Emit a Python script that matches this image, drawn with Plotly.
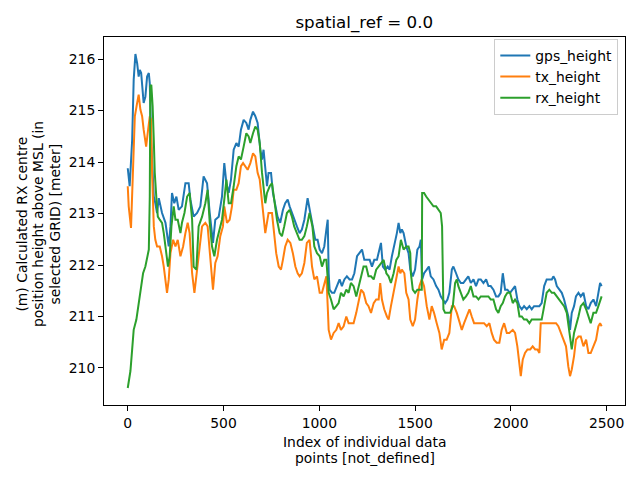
import plotly.graph_objects as go

# ---------------- data ----------------
gps_idx = [0, 10, 23, 31, 40, 49, 57, 63, 70, 75, 83, 92, 101, 110, 115, 122, 136, 144, 153, 162, 179, 197, 214, 223, 231, 243, 254, 266, 283, 301, 318, 327, 344, 362, 379,
           396, 414, 428, 445, 457, 475, 492, 504, 515, 527, 539, 553, 567, 579, 591, 605, 619, 631, 640, 654, 666, 678, 692, 701, 709, 718, 727, 735, 748, 758, 770, 782, 796, 810, 822, 835, 845, 857, 869, 883, 897, 909, 922, 935,
           939, 953, 967, 979, 991, 1002, 1014, 1026, 1037, 1044, 1049, 1054, 1066, 1078, 1092, 1106, 1118, 1131, 1144, 1158, 1171, 1183, 1197, 1211, 1223, 1235, 1249, 1263, 1275, 1287, 1301, 1315, 1322, 1332, 1344, 1357, 1367, 1379, 1391, 1405, 1414, 1423, 1431, 1440, 1454, 1466, 1475,
           1488, 1500, 1512, 1523, 1530, 1537, 1547, 1561, 1572, 1582, 1596, 1610, 1622, 1634, 1645, 1657, 1669, 1679, 1692, 1700, 1714, 1726, 1739, 1752, 1766, 1778, 1791, 1805, 1818, 1831, 1843, 1857, 1871, 1883, 1895, 1909, 1923, 1935, 1947, 1958, 1970, 1982, 1996,
           2022, 2034, 2045, 2057, 2069, 2083, 2097, 2109, 2121, 2135, 2149, 2161, 2174, 2187, 2201, 2214, 2222, 2231, 2240, 2254, 2266, 2278, 2288, 2300, 2309, 2318, 2330, 2340, 2353, 2365, 2379, 2393, 2405, 2417, 2431, 2445, 2457, 2466, 2474]
gps_height = [213.88, 213.53, 214.43, 215.60, 216.10, 215.92, 215.66, 215.79, 215.73, 215.53, 215.15, 215.27, 215.66, 215.73, 215.53, 214.43, 213.33, 213.20, 213.01, 213.30, 213.01, 212.82, 212.36, 212.75, 213.40, 213.20, 213.33, 213.07, 213.14, 213.59, 213.59, 213.27, 212.94, 213.01, 213.14,
              213.72, 213.59, 213.01, 212.43, 212.88, 212.94, 213.33, 213.98, 213.59, 213.40, 213.66, 214.24, 214.37, 214.30, 214.63, 214.82, 214.76, 214.63, 214.82, 214.98, 214.89, 214.76, 214.24, 214.05, 214.24, 213.79, 213.53, 213.79, 213.79, 213.40, 213.20, 212.94, 212.82, 213.07, 213.20, 213.27, 213.14, 213.01, 212.88, 212.75, 212.62, 212.69, 212.88, 213.20,
              213.30, 213.01, 212.69, 212.49, 212.49, 212.30, 212.23, 212.36, 212.69, 212.88, 211.84, 211.52, 211.46, 211.46, 211.59, 211.72, 211.59, 211.72, 211.78, 211.72, 211.72, 211.84, 212.17, 212.23, 212.30, 212.10, 212.10, 212.10, 211.97, 212.10, 212.10, 212.36, 212.43, 211.97, 211.91, 211.97, 211.91, 212.17, 212.36, 212.62, 212.82, 212.62, 212.69, 212.62, 212.36, 212.23, 211.91,
              211.78, 211.91, 212.30, 212.36, 212.49, 211.72, 211.84, 211.91, 211.97, 211.78, 211.72, 211.59, 211.52, 211.39, 211.33, 211.26, 211.33, 211.46, 211.91, 211.97, 211.84, 211.72, 211.65, 211.65, 211.72, 211.78, 211.65, 211.72, 211.59, 211.72, 211.72, 211.65, 211.72, 211.59, 211.59, 211.52, 211.39, 211.39, 211.46, 211.84, 211.52, 211.52, 211.46,
              211.59, 211.33, 211.20, 211.14, 211.20, 211.14, 211.20, 211.14, 211.20, 211.20, 211.20, 211.26, 211.59, 211.72, 211.72, 211.72, 211.78, 211.72, 211.59, 211.52, 211.46, 211.33, 211.20, 211.00, 210.74, 211.07, 211.20, 211.39, 211.46, 211.39, 211.46, 211.20, 211.14, 211.26, 211.33, 211.20, 211.46, 211.65, 211.59]

tx_idx = [0, 5, 17, 26, 37, 49, 57, 66, 75, 83, 96, 104, 115, 122, 127, 136, 144, 153, 167, 179, 188, 205, 214, 223, 237, 249, 261, 275, 289, 301, 313, 323, 336, 348, 362, 376, 388, 405, 417,
          431, 445, 457, 469, 483, 497, 504, 518, 532, 544, 553, 567, 579, 591, 602, 614, 626, 640, 654, 666, 678, 689, 701, 709, 718, 727, 735, 753, 765, 775, 788, 800, 810, 822, 835, 849, 862, 875, 887, 897, 909, 922, 935, 949,
          962, 974, 988, 1002, 1014, 1026, 1037, 1044, 1049, 1061, 1075, 1089, 1101, 1113, 1127, 1141, 1153, 1165, 1179, 1193, 1205, 1218, 1231, 1245, 1257, 1270, 1284, 1297, 1310, 1318, 1327, 1339, 1353, 1362, 1374, 1388, 1402, 1414, 1423, 1431, 1444, 1454, 1466, 1475,
          1488, 1500, 1512, 1523, 1535, 1547, 1561, 1575, 1587, 1599, 1613, 1627, 1639, 1652, 1665, 1679, 1692, 1704, 1718, 1732, 1744, 1756, 1770, 1784, 1796, 1808, 1822, 1836, 1848, 1860, 1874, 1888, 1900, 1912, 1926, 1940, 1952, 1965, 1979, 1992,
          2010, 2022, 2034, 2045, 2052, 2062, 2074, 2087, 2101, 2114, 2127, 2139, 2149, 2156, 2170, 2184, 2196, 2208, 2222, 2236, 2248, 2260, 2274, 2288, 2300, 2309, 2318, 2330, 2340, 2353, 2365, 2379, 2393, 2405, 2417, 2431, 2445, 2457, 2466, 2474]
tx_height = [213.53, 213.14, 212.72, 213.79, 214.89, 215.15, 215.31, 215.02, 214.89, 214.63, 214.30, 214.56, 214.89, 214.82, 213.79, 212.75, 212.49, 212.36, 212.36, 212.17, 211.97, 211.46, 211.72, 212.23, 212.49, 212.36, 212.49, 212.17, 212.36, 212.62, 212.82, 212.62, 211.84, 211.46, 211.97, 212.36, 212.75, 212.82, 212.75,
             212.10, 211.52, 212.04, 212.17, 212.56, 212.75, 213.14, 212.82, 212.88, 213.14, 213.46, 213.46, 213.59, 213.92, 213.98, 213.92, 213.85, 213.98, 214.17, 214.11, 213.79, 213.66, 213.14, 212.94, 212.62, 212.88, 213.01, 213.01, 212.62, 212.23, 211.97, 211.91, 212.10, 212.36, 212.49, 212.43, 212.23, 211.97, 211.84, 211.78, 211.84, 212.04, 212.43, 212.49,
             211.97, 211.72, 211.78, 211.46, 211.46, 211.65, 211.78, 211.20, 210.74, 210.55, 210.68, 210.74, 210.87, 210.74, 210.81, 211.00, 210.87, 210.87, 210.87, 211.07, 211.26, 211.52, 211.46, 211.26, 211.20, 211.07, 211.26, 211.33, 211.33, 211.65, 211.33, 211.14, 211.00, 210.94, 211.20, 211.46, 211.72, 211.97, 211.84, 211.91, 211.84, 211.46, 211.33, 210.94,
             210.81, 210.94, 211.33, 211.59, 211.72, 211.59, 211.20, 210.94, 211.20, 211.07, 210.87, 210.68, 210.36, 210.55, 210.55, 210.68, 211.20, 211.20, 211.07, 210.87, 210.74, 210.87, 211.00, 211.14, 211.00, 210.87, 210.87, 210.87, 210.87, 210.87, 210.81, 210.87, 210.68, 210.55, 210.49, 210.49, 210.74, 210.87, 210.68, 210.68,
             210.74, 210.68, 210.42, 210.10, 209.84, 210.16, 210.29, 210.36, 210.36, 210.42, 210.36, 210.36, 210.29, 210.87, 210.87, 210.87, 210.87, 210.87, 210.87, 210.87, 210.81, 210.68, 210.55, 210.42, 210.03, 209.84, 209.97, 210.23, 210.55, 210.61, 210.61, 210.42, 210.55, 210.29, 210.29, 210.42, 210.55, 210.81, 210.87, 210.81]

rx_idx = [0, 14, 23, 31, 45, 57, 66, 80, 92, 101, 110, 115, 118, 123, 130, 136, 141, 150, 157, 167, 179, 188, 198, 210, 219, 228, 240, 249, 261, 275, 283, 296, 310, 323, 336, 344, 358, 370, 388, 405, 417,
          428, 440, 452, 466, 480, 492, 504, 515, 527, 539, 553, 567, 579, 591, 605, 619, 631, 640, 654, 666, 678, 689, 701, 709, 718, 727, 741, 753, 765, 779, 793, 805, 817, 831, 845, 857, 869, 883, 897, 909, 922, 935, 949,
          964, 974, 988, 1002, 1014, 1026, 1037, 1049, 1061, 1075, 1089, 1101, 1113, 1127, 1141, 1153, 1165, 1179, 1193, 1205, 1218, 1231, 1245, 1257, 1270, 1284, 1297, 1310, 1322, 1336, 1350, 1362, 1374, 1388, 1402, 1414, 1426, 1440, 1454, 1466, 1475,
          1478, 1488, 1500, 1512, 1526, 1535, 1537, 1547, 1558, 1570, 1582, 1596, 1610, 1622, 1634, 1641, 1648, 1657, 1669, 1683, 1697, 1709, 1718, 1726, 1739, 1752, 1766, 1778, 1791, 1805, 1818, 1831, 1843, 1857, 1871, 1883, 1895, 1909, 1923, 1935, 1947, 1958, 1970, 1982, 1996,
          2010, 2022, 2034, 2045, 2057, 2069, 2083, 2097, 2109, 2121, 2135, 2149, 2161, 2174, 2187, 2201, 2214, 2226, 2240, 2254, 2266, 2278, 2292, 2300, 2309, 2318, 2330, 2340, 2353, 2365, 2379, 2393, 2405, 2417, 2431, 2445, 2457, 2466, 2474]
rx_height = [209.61, 209.94, 210.36, 210.74, 210.94, 211.26, 211.46, 211.84, 211.97, 212.17, 212.30, 213.33, 215.47, 215.50, 215.08, 214.43, 213.79, 213.27, 212.94, 212.88, 212.82, 212.62, 212.36, 211.97, 212.17, 212.75, 213.14, 212.88, 212.88, 212.62, 212.82, 213.01, 213.33, 213.40, 212.88, 211.97, 211.91, 212.75, 212.94, 213.20, 213.46,
             212.82, 212.36, 212.17, 212.49, 212.69, 212.88, 213.27, 213.66, 213.20, 213.20, 213.53, 213.92, 214.11, 214.05, 214.30, 214.56, 214.50, 214.37, 214.56, 214.69, 214.63, 214.37, 213.79, 213.46, 213.20, 213.40, 213.53, 213.59, 213.27, 212.88, 212.62, 212.56, 212.75, 213.01, 213.07, 212.94, 212.75, 212.62, 212.49, 212.49, 212.56, 212.75, 213.01,
             212.75, 212.36, 212.23, 212.17, 211.97, 212.10, 212.10, 211.46, 211.33, 211.14, 211.20, 211.26, 211.46, 211.39, 211.52, 211.46, 211.65, 211.59, 211.39, 211.59, 211.78, 211.97, 211.97, 211.78, 211.78, 211.72, 211.91, 211.97, 212.04, 212.10, 211.84, 211.78, 211.65, 211.84, 212.10, 212.17, 212.49, 212.30, 212.36, 212.36, 212.23,
             211.84, 211.52, 211.46, 211.52, 211.52, 211.52, 213.40, 213.40, 213.33, 213.27, 213.20, 213.14, 213.14, 213.07, 213.01, 212.75, 211.14, 211.07, 211.07, 211.07, 211.20, 211.65, 211.72, 211.59, 211.46, 211.33, 211.39, 211.46, 211.59, 211.39, 211.39, 211.33, 211.39, 211.39, 211.39, 211.39, 211.33, 211.33, 211.14, 211.07, 211.20, 211.26, 211.39, 211.46, 211.46,
             211.26, 211.33, 211.26, 211.00, 211.00, 210.94, 210.94, 210.87, 210.94, 210.94, 210.94, 210.94, 210.94, 211.20, 211.46, 211.52, 211.46, 211.46, 211.39, 211.33, 211.26, 211.20, 211.07, 210.87, 210.61, 210.36, 210.68, 210.81, 211.00, 211.20, 211.26, 211.14, 211.00, 210.87, 211.07, 211.07, 211.20, 211.33, 211.39]

series_names = ["gps_height", "tx_height", "rx_height"]
series_colors = ["#1f77b4", "#ff7f0e", "#2ca02c"]
x_ticks = [0, 500, 1000, 1500, 2000, 2500]
y_ticks = [210, 211, 212, 213, 214, 215, 216]
title_text = "spatial_ref = 0.0"
x_title_lines = ["Index of individual data", "points [not_defined]"]
y_title_lines = ["(m) Calculated RX centre", "position height above MSL (in", "selected GRID) [meter]"]

# ---------------- figure ----------------
FONT = "DejaVu Sans"
W, H = 640, 480
L, R, T, B = 103.5, 15, 37, 75
pw, ph = W - L - R, H - T - B

fig = go.Figure()
for name, color, xs, ys in zip(series_names, series_colors,
                               [gps_idx, tx_idx, rx_idx],
                               [gps_height, tx_height, rx_height]):
    fig.add_trace(go.Scatter(x=xs, y=ys, mode="lines", name=name,
                             line=dict(color=color, width=2)))

axis_common = dict(showline=True, mirror=True, linecolor="black", linewidth=1,
                   ticks="outside", ticklen=5, tickwidth=1, tickcolor="black",
                   showgrid=False, zeroline=False,
                   tickfont=dict(family=FONT, size=13.9, color="black"))
fig.update_xaxes(range=[-124, 2596], tickvals=x_ticks, **axis_common)
fig.update_yaxes(range=[209.28, 216.43], tickvals=y_ticks, **axis_common)

annotations = []
x_line_px = [442, 458]
for txt, ypx in zip(x_title_lines, x_line_px):
    annotations.append(dict(text=txt, xref="paper", yref="paper", x=0.5,
                            y=(T + ph - ypx) / ph, xanchor="center", yanchor="middle",
                            showarrow=False, font=dict(family=FONT, size=13.9, color="black")))
y_line_px = [21, 37.5, 54]
for txt, xpx in zip(y_title_lines, y_line_px):
    annotations.append(dict(text=txt, xref="paper", yref="paper", x=(xpx - L) / pw,
                            y=(T + ph - 224) / ph, xanchor="center", yanchor="middle", textangle=-90,
                            showarrow=False, font=dict(family=FONT, size=13.9, color="black")))

fig.update_layout(
    width=W, height=H,
    margin=dict(l=L, r=R, t=T, b=B, pad=0),
    paper_bgcolor="white", plot_bgcolor="white",
    font=dict(family=FONT, size=13.9, color="black"),
    title=dict(text=title_text, x=(L + pw / 2) / W, xanchor="center",
               y=1 - 22 / H, yanchor="middle", yref="container",
               font=dict(family=FONT, size=16.7, color="black")),
    legend=dict(x=(618.3 - L) / pw, xanchor="right", y=1 - (39 - T) / ph, yanchor="top",
                bgcolor="rgba(255,255,255,0.8)", bordercolor="#cccccc", borderwidth=1,
                font=dict(family=FONT, size=13.9, color="black")),
    annotations=annotations,
    showlegend=True,
)

fig.write_html("out.html")
